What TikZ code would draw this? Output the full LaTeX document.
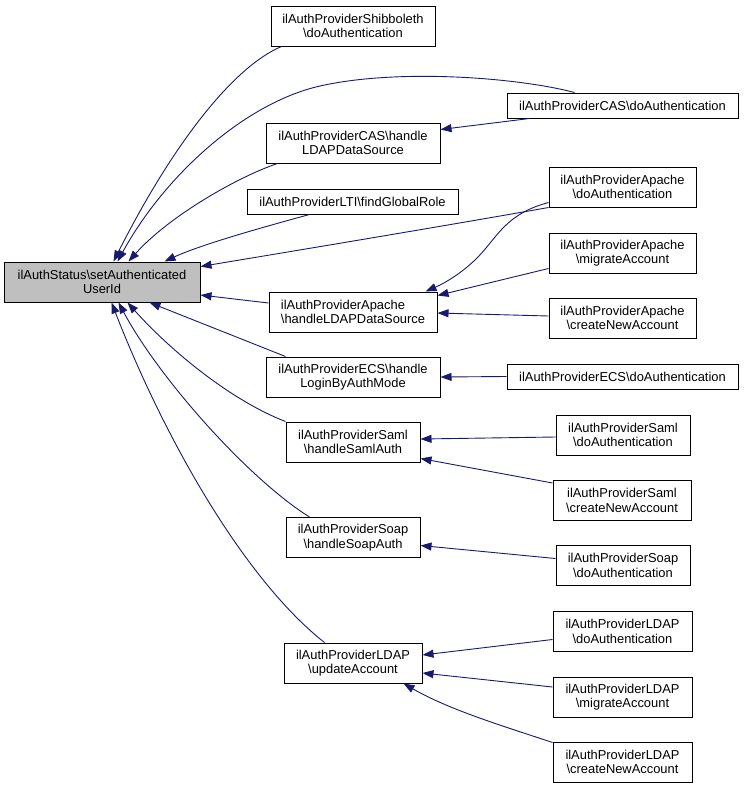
\documentclass[tikz,border=0pt]{standalone}
\usepackage{fontspec}
\setmainfont{Liberation Sans}
\usetikzlibrary{arrows.meta,calc}
\definecolor{edgeblue}{HTML}{191970}
\definecolor{mainfill}{HTML}{BFBFBF}
\newcommand{\bs}{\textbackslash}
\begin{document}
\begin{tikzpicture}[x=1pt,y=-1pt,
  box/.style={draw=black,line width=1pt,fill=white,inner sep=0pt,align=center,
    font=\fontsize{12.9}{14.5}\selectfont},
  edge/.style={draw=edgeblue,line width=0.9pt,-{Triangle[length=11pt,width=8pt]}}]
\useasboundingbox (0,0) rectangle (744,788);
% column 1
\node[box,fill=mainfill,minimum width=196,minimum height=40] (main) at (102,282) {ilAuthStatus\bs setAuthenticated\\UserId};
% column 2
\node[box,minimum width=164,minimum height=40] (shib) at (353,26) {ilAuthProviderShibboleth\\\bs doAuthentication};
\node[box,minimum width=174,minimum height=40] (cash) at (353,143) {ilAuthProviderCAS\bs handle\\LDAPDataSource};
\node[box,minimum width=211,minimum height=25] (lti) at (352.5,201.5) {ilAuthProviderLTI\bs findGlobalRole};
\node[box,align=left,minimum width=168,minimum height=40] (aph) at (353,312) {ilAuthProviderApache\\\bs handleLDAPDataSource};
\node[box,minimum width=174,minimum height=40] (ecsh) at (353,377) {ilAuthProviderECS\bs handle\\LoginByAuthMode};
\node[box,minimum width=134,minimum height=40] (samlh) at (353,442) {ilAuthProviderSaml\\\bs handleSamlAuth};
\node[box,minimum width=134,minimum height=40] (soaph) at (353,537.5) {ilAuthProviderSoap\\\bs handleSoapAuth};
\node[box,minimum width=138,minimum height=40] (ldapu) at (353,663) {ilAuthProviderLDAP\\\bs updateAccount};
% column 3
\node[box,minimum width=231,minimum height=25] (casd) at (622.5,105.5) {ilAuthProviderCAS\bs doAuthentication};
\node[box,minimum width=147,minimum height=40] (apd) at (622.5,187) {ilAuthProviderApache\\\bs doAuthentication};
\node[box,minimum width=147,minimum height=40] (apm) at (622.5,253) {ilAuthProviderApache\\\bs migrateAccount};
\node[box,minimum width=147,minimum height=40] (apc) at (622.5,318) {ilAuthProviderApache\\\bs createNewAccount};
\node[box,minimum width=231,minimum height=25] (ecsd) at (622.5,376.5) {ilAuthProviderECS\bs doAuthentication};
\node[box,minimum width=134,minimum height=40] (samld) at (623,435) {ilAuthProviderSaml\\\bs doAuthentication};
\node[box,minimum width=138,minimum height=40] (samlc) at (622,500.5) {ilAuthProviderSaml\\\bs createNewAccount};
\node[box,minimum width=134,minimum height=40] (soapd) at (623,565.5) {ilAuthProviderSoap\\\bs doAuthentication};
\node[box,minimum width=139,minimum height=40] (ldapd) at (622.5,631.5) {ilAuthProviderLDAP\\\bs doAuthentication};
\node[box,minimum width=139,minimum height=40] (ldapm) at (622.5,697) {ilAuthProviderLDAP\\\bs migrateAccount};
\node[box,minimum width=139,minimum height=40] (ldapc) at (622.5,762) {ilAuthProviderLDAP\\\bs createNewAccount};
% edges into main (top)
\draw[edge] ($(shib.south west)+(11,0)$) .. controls (235,66) and (175,140) .. ($(main.north west)+(110,0)$);
\draw[edge] ($(casd.north west)+(68,0)$) .. controls (520,78) and (400,68) .. (320,86) .. controls (245,103) and (165,175) .. ($(main.north west)+(114,0)$);
\draw[edge] ($(cash.south west)+(12,0)$) .. controls (240,176) and (170,215) .. ($(main.north west)+(125,0)$);
\draw[edge] ($(lti.south west)+(63,0)$) .. controls (260,228) and (200,245) .. ($(main.north west)+(161,0)$);
\draw[edge] (apd.south west) .. controls (450,225) and (300,250) .. ($(main.north east)+(0,5)$);
\draw[edge] ($(aph.west)+(0,-9)$) -- ($(main.east)+(0,13)$);
% edges into main (bottom)
\draw[edge] ($(ecsh.north west)+(20,0)$) -- ($(main.south west)+(146,0)$);
\draw[edge] (samlh.north west) .. controls (230,400) and (170,350) .. ($(main.south west)+(124,0)$);
\draw[edge] ($(soaph.north west)+(24,0)$) .. controls (250,480) and (160,380) .. ($(main.south west)+(115,0)$);
\draw[edge] ($(ldapu.north west)+(41,0)$) .. controls (245,580) and (165,440) .. ($(main.south west)+(108,0)$);
% column 3 -> column 2
\draw[edge] ($(casd.south west)+(23,0)$) -- ($(cash.north east)+(0,7)$);
\draw[edge] ($(apd.south west)+(0,-5)$) .. controls (505,214) and (497,238) .. (477,258) .. controls (462,273) and (445,283) .. ($(aph.north east)+(-12,0)$);
\draw[edge] ($(apm.south west)+(0,-5)$) -- ($(aph.north east)+(0,4)$);
\draw[edge] ($(apc.west)+(0,-2)$) -- ($(aph.east)+(0,1)$);
\draw[edge] (ecsd.west) -- (ecsh.east);
\draw[edge] ($(samld.west)+(0,2)$) -- ($(samlh.east)+(0,-3)$);
\draw[edge] ($(samlc.north west)+(0,3)$) -- ($(samlh.south east)+(0,-4)$);
\draw[edge] ($(soapd.west)+(0,-7)$) -- ($(soaph.east)+(0,8)$);
\draw[edge] ($(ldapd.west)+(0,8)$) -- ($(ldapu.east)+(0,-8)$);
\draw[edge] ($(ldapm.west)+(0,-10)$) -- ($(ldapu.east)+(0,10)$);
\draw[edge] ($(ldapc.north west)+(0,1)$) .. controls (500,725) and (450,710) .. ($(ldapu.south east)+(-19,0)$);
\end{tikzpicture}
\end{document}
